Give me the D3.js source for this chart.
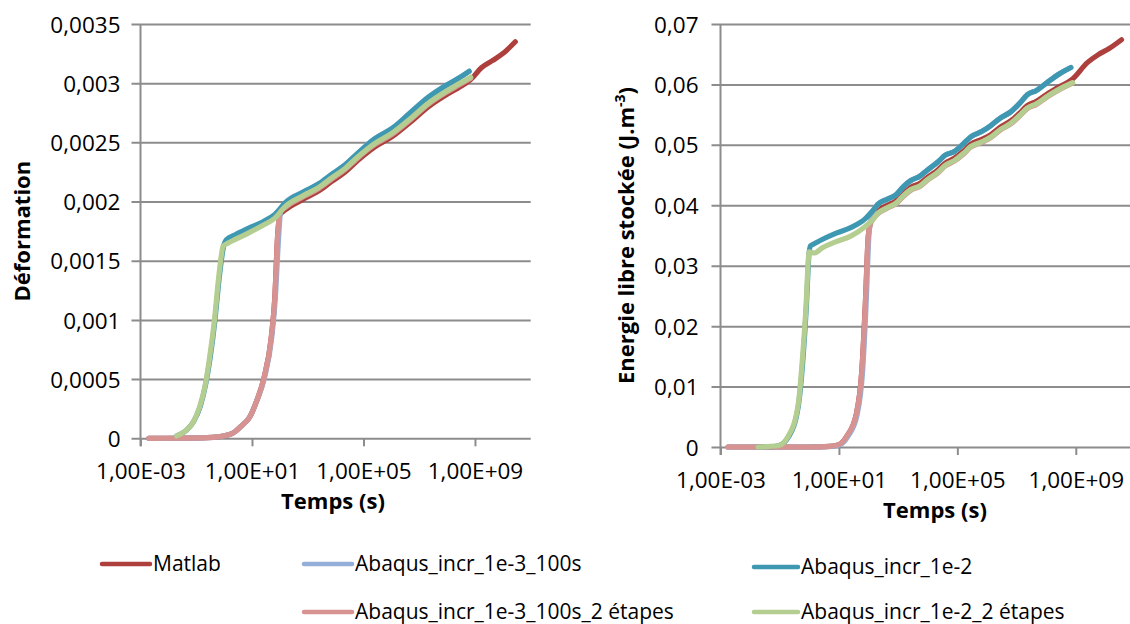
<!DOCTYPE html>
<html>
<head>
<meta charset="utf-8">
<script src="https://cdn.jsdelivr.net/npm/d3@7"></script>
<style>
  html, body { margin: 0; padding: 0; background: #ffffff; }
  svg { display: block; }
</style>
</head>
<body>
<svg id="chart" width="1130" height="624"></svg>
<script>
// ---------- DATA ----------
const seriesNames = ["Matlab", "Abaqus_incr_1e-3_100s", "Abaqus_incr_1e-2", "Abaqus_incr_1e-3_100s_2 étapes", "Abaqus_incr_1e-2_2 étapes"];
const seriesColors = ["#ad403d", "#93aed8", "#3f98b2", "#d69391", "#b4cd90"];

const xTicks = [1e-3, 1e1, 1e5, 1e9];
const xTickLabels = ["1,00E-03", "1,00E+01", "1,00E+05", "1,00E+09"];

const yTicksLeft = [0, 0.0005, 0.001, 0.0015, 0.002, 0.0025, 0.003, 0.0035];
const yTickLabelsLeft = ["0", "0,0005", "0,001", "0,0015", "0,002", "0,0025", "0,003", "0,0035"];
const yTicksRight = [0, 0.01, 0.02, 0.03, 0.04, 0.05, 0.06, 0.07];
const yTickLabelsRight = ["0", "0,01", "0,02", "0,03", "0,04", "0,05", "0,06", "0,07"];

// Left chart: Déformation vs time [t (s), strain]
const matlabLeft = [[2e-3,0],[0.05,0.000001],[0.4,0.000008],[1.9,0.00004],[4,0.0001],[8.3,0.00018],[15,0.00032],[27,0.00051],[49,0.00085],[66,0.00119],[83,0.00171],[102,0.00189],[158,0.00193],[692,0.00202],[2500,0.00209],[7240,0.00217],[2.2e4,0.00225],[5.75e4,0.00234],[2.5e5,0.00246],[1.1e6,0.00255],[4.8e6,0.00267],[2.1e7,0.00280],[9.1e7,0.00290],[2.5e8,0.00296],[7e8,0.00303],[1.7e9,0.00313],[4.2e9,0.00319],[1e10,0.00325],[2.8e10,0.00335]];
const lightBlueLeft = [[2e-3,0],[0.05,0.000001],[0.4,0.000008],[1.9,0.00004],[4,0.0001],[8.3,0.00018],[15,0.00032],[28,0.00051],[51,0.00085],[69,0.00119],[88,0.00165],[108,0.00193],[158,0.00199],[692,0.00208],[2500,0.00215],[7240,0.00223],[2.2e4,0.00231],[5.75e4,0.00240],[2.5e5,0.00253],[1.1e6,0.00262],[4.8e6,0.00275],[2.1e7,0.00288],[9.1e7,0.00298],[2.5e8,0.00304],[6.2e8,0.00310]];
const tealLeft = [[0.02,0.00002],[0.045,0.00007],[0.08,0.00014],[0.14,0.00027],[0.22,0.00046],[0.32,0.00069],[0.47,0.00100],[0.63,0.00130],[0.85,0.00155],[1.0,0.00164],[1.23,0.00168],[2.5,0.00172],[8.3,0.00178],[25,0.00183],[66,0.00189],[158,0.00199],[692,0.00208],[2500,0.00215],[7240,0.00223],[2.2e4,0.00231],[5.75e4,0.00240],[2.5e5,0.00253],[1.1e6,0.00262],[4.8e6,0.00275],[2.1e7,0.00288],[9.1e7,0.00298],[2.5e8,0.00304],[6.2e8,0.00310]];
const pinkLeft = [[2e-3,0],[0.05,0.000001],[0.4,0.000008],[1.9,0.00004],[4,0.0001],[8.3,0.00018],[15,0.00032],[27,0.00051],[49,0.00085],[66,0.00119],[83,0.00171],[102,0.00191],[158,0.00195],[692,0.00204],[2500,0.00211],[7240,0.00219],[2.2e4,0.00227],[5.75e4,0.00236],[2.5e5,0.00248],[1.1e6,0.00257],[4.8e6,0.00269],[2.1e7,0.00282],[9.1e7,0.00292],[2.5e8,0.00298],[7e8,0.00304]];
const greenLeft = [[0.02,0.00002],[0.04,0.00006],[0.075,0.00013],[0.13,0.00026],[0.21,0.00045],[0.3,0.00068],[0.45,0.00100],[0.6,0.00130],[0.8,0.00155],[0.91,0.00162],[1.4,0.00165],[2.5,0.00168],[8.3,0.00174],[25,0.00180],[66,0.00186],[158,0.00196],[692,0.00205],[2500,0.00212],[7240,0.00220],[2.2e4,0.00228],[5.75e4,0.00237],[2.5e5,0.00249],[1.1e6,0.00258],[4.8e6,0.00270],[2.1e7,0.00283],[9.1e7,0.00293],[2.5e8,0.00299],[7e8,0.00305]];

// Right chart: Energie libre stockée vs time [t (s), energy]
const matlabRight = [[1.8e-3,0],[1,0],[5,0.0001],[11,0.0005],[19,0.0019],[38,0.0053],[59,0.0125],[78,0.0237],[98,0.0349],[120,0.0373],[209,0.0391],[427,0.0400],[871,0.0408],[1510,0.0420],[2690,0.0430],[5370,0.0436],[9550,0.0446],[2.24e4,0.0459],[3.9e4,0.0470],[7.9e4,0.0478],[1.62e5,0.0490],[2.8e5,0.0501],[6.6e5,0.0509],[1.35e6,0.0517],[2.75e6,0.0529],[6.5e6,0.0540],[1.29e7,0.0553],[2.3e7,0.0565],[4.7e7,0.0572],[1.07e8,0.0584],[2.5e8,0.0595],[7.8e8,0.0609],[2.45e9,0.0636],[5.6e9,0.0649],[1.3e10,0.0659],[3.5e10,0.0674]];
const lightBlueRight = [[1.8e-3,0],[1,0],[6,0.0001],[12,0.0005],[21,0.0019],[41,0.0053],[63,0.0125],[83,0.0237],[103,0.0349],[130,0.0385],[209,0.0402],[427,0.0410],[871,0.0418],[1510,0.0431],[2690,0.0441],[5370,0.0448],[9550,0.0458],[2.24e4,0.0472],[3.9e4,0.0483],[7.9e4,0.0489],[1.62e5,0.0502],[2.8e5,0.0513],[6.6e5,0.0522],[1.35e6,0.0532],[2.75e6,0.0544],[6.5e6,0.0555],[1.29e7,0.0569],[2.3e7,0.0583],[4.7e7,0.0590],[1.07e8,0.0603],[2.5e8,0.0616],[6.8e8,0.0628]];
const tealRight = [[0.0186,0],[0.05,0.00003],[0.09,0.0002],[0.2,0.0017],[0.42,0.0066],[0.62,0.0150],[0.8,0.0235],[0.97,0.0318],[1.1,0.0333],[1.3,0.0335],[2.6,0.0343],[8.1,0.0354],[25,0.0363],[78,0.0378],[138,0.0391],[209,0.0402],[427,0.0410],[871,0.0418],[1510,0.0431],[2690,0.0441],[5370,0.0448],[9550,0.0458],[2.24e4,0.0472],[3.9e4,0.0483],[7.9e4,0.0489],[1.62e5,0.0502],[2.8e5,0.0513],[6.6e5,0.0522],[1.35e6,0.0532],[2.75e6,0.0544],[6.5e6,0.0555],[1.29e7,0.0569],[2.3e7,0.0583],[4.7e7,0.0590],[1.07e8,0.0603],[2.5e8,0.0616],[6.8e8,0.0628]];
const pinkRight = [[1.8e-3,0],[1,0],[5,0.0001],[11,0.0005],[19,0.0019],[38,0.0053],[59,0.0125],[78,0.0237],[98,0.0349],[120,0.0371],[209,0.0386],[427,0.0395],[871,0.0403],[1510,0.0415],[2690,0.0425],[5370,0.0431],[9550,0.0441],[2.24e4,0.0454],[3.9e4,0.0465],[7.9e4,0.0473],[1.62e5,0.0485],[2.8e5,0.0496],[6.6e5,0.0504],[1.35e6,0.0512],[2.75e6,0.0524],[6.5e6,0.0535],[1.29e7,0.0548],[2.3e7,0.0560],[4.7e7,0.0567],[1.07e8,0.0579],[2.5e8,0.0590],[7.8e8,0.0602]];
const greenRight = [[0.0186,0],[0.087,0.0002],[0.2,0.0019],[0.42,0.0070],[0.6,0.0153],[0.78,0.0237],[0.93,0.0312],[0.98,0.0323],[1.5,0.0321],[2.6,0.0329],[8.1,0.0340],[25,0.0349],[78,0.0365],[138,0.0376],[209,0.0387],[427,0.0396],[871,0.0404],[1510,0.0416],[2690,0.0426],[5370,0.0432],[9550,0.0442],[2.24e4,0.0455],[3.9e4,0.0466],[7.9e4,0.0474],[1.62e5,0.0486],[2.8e5,0.0497],[6.6e5,0.0505],[1.35e6,0.0513],[2.75e6,0.0525],[6.5e6,0.0536],[1.29e7,0.0549],[2.3e7,0.0561],[4.7e7,0.0568],[1.07e8,0.0580],[2.5e8,0.0591],[7.8e8,0.0603]];

const leftSeries = [matlabLeft, lightBlueLeft, tealLeft, pinkLeft, greenLeft];
const rightSeries = [matlabRight, lightBlueRight, tealRight, pinkRight, greenRight];

// ---------- DRAW ----------
const FONT = "'Open Sans', 'Liberation Sans', Arial, sans-serif";
const GRID = "#8c8c8c";
const svg = d3.select("#chart");
svg.append("rect").attr("width", 1130).attr("height", 624).attr("fill", "#ffffff");

function drawChart(cfg) {
  const g = svg.append("g");
  const x = d3.scaleLog().domain([1e-3, 1e11]).range([cfg.x0, cfg.x1]);
  const y = d3.scaleLinear().domain([0, cfg.ymax]).range([cfg.y1, cfg.y0]);
  const w = cfg.x1 - cfg.x0;

  // y axis + gridlines
  const gy = g.append("g").attr("transform", `translate(${cfg.x0},0)`)
    .call(d3.axisLeft(y).tickValues(cfg.yTicks).tickFormat((d, i) => cfg.yLabels[i])
      .tickSizeInner(-w).tickSizeOuter(0));
  gy.select(".domain").remove();
  gy.selectAll(".tick line").attr("x1", -9).attr("x2", w)
    .attr("stroke", GRID).attr("stroke-width", 2);
  gy.selectAll(".tick text").attr("x", -cfg.labelGap).attr("dy", "0.36em")
    .attr("text-anchor", "end")
    .style("font-family", FONT).style("font-size", "22.5px").attr("fill", "#000");

  // x axis ticks + labels
  const gx = g.append("g").attr("transform", `translate(0,${cfg.y1})`)
    .call(d3.axisBottom(x).tickValues(xTicks).tickFormat((d, i) => xTickLabels[i])
      .tickSizeInner(8).tickSizeOuter(0));
  gx.select(".domain").remove();
  gx.selectAll(".tick line").attr("stroke", GRID).attr("stroke-width", 2);
  gx.selectAll(".tick text").attr("y", 41).attr("dy", 0)
    .style("font-family", FONT).style("font-size", "22.5px").attr("fill", "#000");

  // vertical axis line
  g.append("line").attr("x1", cfg.x0).attr("x2", cfg.x0)
    .attr("y1", cfg.y0).attr("y2", cfg.y1 + 8)
    .attr("stroke", GRID).attr("stroke-width", 2);

  // series
  const line = d3.line().x(d => x(d[0])).y(d => y(d[1])).curve(d3.curveMonotoneX);
  cfg.series.forEach((s, i) => {
    g.append("path").datum(s).attr("d", line)
      .attr("fill", "none").attr("stroke", seriesColors[i])
      .attr("stroke-width", 5.2).attr("stroke-linecap", "round").attr("stroke-linejoin", "round");
  });

  // x title
  g.append("text").attr("x", cfg.xTitleX).attr("y", cfg.y1 + 71)
    .attr("text-anchor", "middle").style("font-family", FONT)
    .style("font-size", "22px").style("font-weight", "bold").text("Temps (s)");

  // y title
  const yt = g.append("text")
    .attr("transform", `translate(${cfg.yTitleX},${(cfg.y0 + cfg.y1) / 2}) rotate(-90)`)
    .attr("text-anchor", "middle").style("font-family", FONT)
    .style("font-size", "22px").style("font-weight", "bold");
  cfg.yTitle(yt);
}

drawChart({
  x0: 140.5, x1: 530.7, y0: 24, y1: 438.3, ymax: 0.0035,
  yTicks: yTicksLeft, yLabels: yTickLabelsLeft, labelGap: 20,
  series: leftSeries, xTitleX: 333, yTitleX: 30,
  yTitle: t => t.text("Déformation")
});

drawChart({
  x0: 720.5, x1: 1135, y0: 24, y1: 447, ymax: 0.07,
  yTicks: yTicksRight, yLabels: yTickLabelsRight, labelGap: 22,
  series: rightSeries, xTitleX: 935, yTitleX: 634,
  yTitle: t => {
    t.append("tspan").text("Energie libre stockée (J.m");
    t.append("tspan").attr("baseline-shift", "super").style("font-size", "14px").text("-3");
    t.append("tspan").text(")");
  }
});

// ---------- LEGEND ----------
const legendItems = [
  { i: 0, lx: 102, ly: 564 },
  { i: 1, lx: 304, ly: 564 },
  { i: 2, lx: 754, ly: 567 },
  { i: 3, lx: 304, ly: 612 },
  { i: 4, lx: 754, ly: 612 }
];
const lg = svg.append("g");
legendItems.forEach(it => {
  const len = it.i === 2 || it.i === 4 ? 44 : 48;
  lg.append("line").attr("x1", it.lx).attr("x2", it.lx + len)
    .attr("y1", it.ly).attr("y2", it.ly)
    .attr("stroke", seriesColors[it.i]).attr("stroke-width", 4.5).attr("stroke-linecap", "round");
  lg.append("text").attr("x", it.lx + len + 3).attr("y", it.ly + 7)
    .style("font-family", FONT).style("font-size", "21px").attr("fill", "#000")
    .text(seriesNames[it.i]);
});
</script>
</body>
</html>
